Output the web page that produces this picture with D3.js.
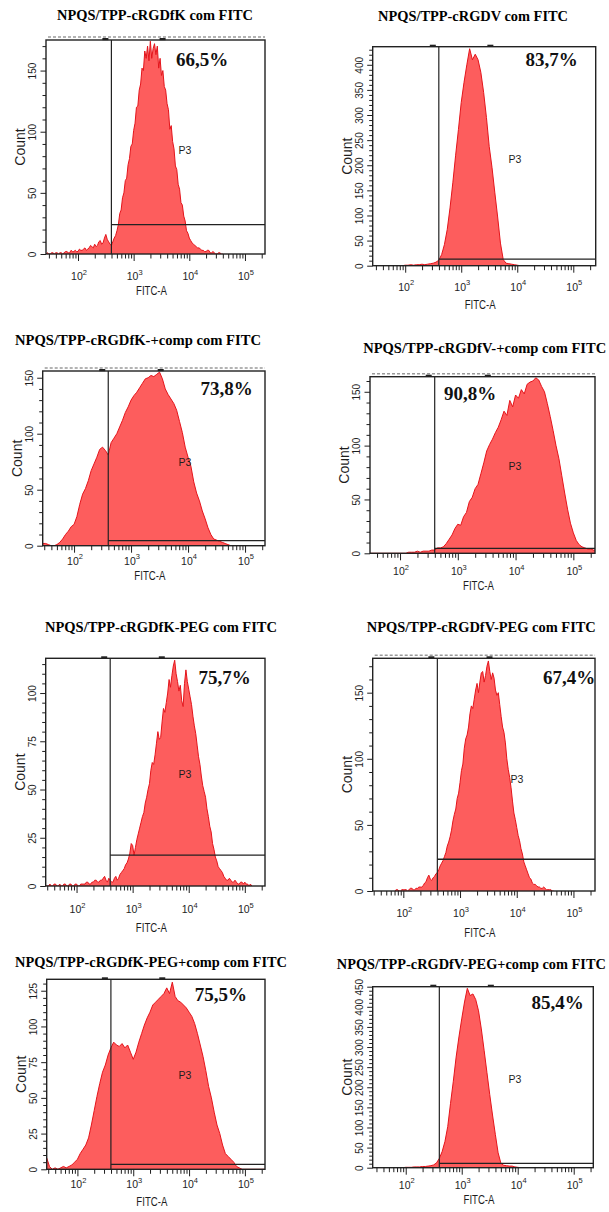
<!DOCTYPE html>
<html>
<head>
<meta charset="utf-8">
<script src="https://cdn.jsdelivr.net/npm/d3@7"></script>
<style>
  html, body { margin: 0; padding: 0; background: #fff; }
  svg { display: block; }
</style>
</head>
<body>
<script>
// FITC-A histograms: counts per bin, each series with its own first bin (log10) and bin width (decades)
const titles = [
  "NPQS/TPP-cRGDfK com FITC",
  "NPQS/TPP-cRGDV com FITC",
  "NPQS/TPP-cRGDfK-+comp com FITC",
  "NPQS/TPP-cRGDfV-+comp com FITC",
  "NPQS/TPP-cRGDfK-PEG com FITC",
  "NPQS/TPP-cRGDfV-PEG com FITC",
  "NPQS/TPP-cRGDfK-PEG+comp com FITC",
  "NPQS/TPP-cRGDfV-PEG+comp com FITC"
];
const percentLabels = ["66,5%", "83,7%", "73,8%", "90,8%", "75,7%", "67,4%", "75,5%", "85,4%"];
const gateName = "P3";
const xAxisTitle = "FITC-A";
const yAxisTitle = "Count";
const decadeTicks = [1e2, 1e3, 1e4, 1e5];
const decadeExponents = ["2", "3", "4", "5"];

// gate: lower FITC-A bound (log10) and the count level of each horizontal gate bar
const gateLog = 2.6;
const gateCounts = [24, 13, 4.5, 4.6, 16, 24, 3.5, 11];

// y axis: maximum, labelled tick step and minor tick step
const yMaxima = [175, 436, 156, 164, 118, 176, 133, 450];
const yMajorSteps = [50, 50, 50, 50, 25, 50, 25, 50];
const yMinorSteps = [10, 10, 10, 10, 5, 10, 5, 10];

// first bin (log10) and bin width of each series
const binStarts = [1.425, 1.40, 1.40, 1.40, 1.45, 1.85, 1.40, 1.40];
const binSteps  = [0.025, 0.05, 0.05, 0.05, 0.025, 0.025, 0.05, 0.05];

const countsFK = [
  0,1,0,0,1,1,0,1,1,0,1,1,0,1,2,2,1,1,3,2,2,3,2,
  2,4,3,3,4,5,3,4,5,7,6,5,8,6,7,10,11,8,9,13,16,12,10,8,7,10,13,15,
  19,24,33,36,46,50,60,62,73,78,88,90,
  101,107,120,121,134,139,152,150,166,160,170,158,174,160,168,172,163,170,152,160,
  146,150,137,134,123,118,102,105,92,86,72,69,57,53,42,40,31,27,19,17,
  13,11,9,8,7,6,5,5,4,3,3,2,2,3,3,1,1,2,1,0,0,1,1,0,0
];
const countsV = [
  0,0,0,0,0,0,0,0,0,0,0,0,
  1,1,2,1,2,2,3,2,3,4,5,7,11,22,42,72,115,165,220,271,
  325,365,400,432,410,421,410,385,345,295,237,195,145,97,45,12,5,4,3,2,
  1,0,0,0,0,0,0,0,0,0,0,0,0,0,0,0,0,0,0,0,
  0,0,0,0,0,0,0,0,0
];
const countsFKComp = [
  0,2,2,1,0,0,1,3,6,10,13,17,
  19,26,37,46,51,58,67,73,79,86,88,85,81,92,96,100,106,112,119,124,
  130,134,137,141,145,149,150,152,151,153,155,149,140,135,131,127,121,111,101,88,
  79,71,57,47,40,31,24,16,10,6,5,4,3,2,1,0,0,0,0,0,
  0,0,0,0,0,0,0,0,0
];
const countsFVComp = [
  0,0,0,0,0,0,0,0,0,0,0,0,
  0,0,0,1,1,1,2,1,2,2,2,3,3,5,5,6,9,13,17,23,
  27,26,34,38,48,52,60,64,74,84,95,101,106,112,117,124,132,128,142,136,
  147,144,152,148,157,159,160,163,161,155,150,139,127,114,100,88,72,56,41,28,
  19,12,8,6,5,4,4,3,3
];
const countsFKPeg = [
  0,0,0,1,0,0,1,1,0,0,1,0,0,1,1,0,0,1,1,0,0,1,
  1,0,0,1,1,1,1,2,2,1,1,2,2,3,3,2,2,3,3,4,5,3,2,4,3,2,2,4,
  5,3,4,6,7,8,9,11,12,14,17,22,
  21,16,20,24,27,30,33,36,38,43,46,50,53,60,64,63,68,74,80,76,
  77,85,92,90,95,100,107,103,109,114,117,110,106,101,104,96,93,105,112,106,
  102,98,94,88,83,79,73,67,63,57,52,49,46,40,36,31,28,22,19,15,
  13,10,9,8,7,5,4,3,3,4,3,2,2,3,2,1,1,2,2,1,
  2,1,1,0,1,0
];
const countsFVPeg = [
  0,1,1,0,0,1,
  1,1,1,0,1,2,2,1,1,2,2,3,3,3,4,6,7,10,12,9,8,10,11,13,14,16,19,21,23,26,29,34,37,41,46,53,58,62,70,74,
  82,91,96,108,115,118,124,134,140,138,145,152,157,150,158,165,166,158,163,170,
  174,166,160,165,161,152,148,150,141,132,124,120,112,100,92,86,78,68,59,54,
  48,42,38,32,28,22,19,16,13,10,9,6,5,5,4,3,3,2,2,3,
  2,1,1,1,1,0,0
];
const countsFKPegComp = [
  0,8,2,0,1,0,1,2,1,2,3,5,
  7,11,14,17,22,31,41,51,60,68,73,80,85,89,87,86,88,85,87,82,
  77,82,89,95,101,106,110,115,117,119,121,123,127,123,131,121,118,117,115,113,
  110,107,102,95,87,79,69,58,50,40,31,25,17,11,9,7,5,2,1,0,
  0,0,0,0,0,0,0,0,0
];
const countsFVPegComp = [
  0,0,0,0,0,0,0,0,0,0,0,0,
  1,1,1,2,2,2,3,3,4,5,7,12,23,40,65,102,160,215,275,325,
  370,412,446,428,432,418,390,345,292,237,182,131,83,37,11,6,5,4,4,2,
  1,0,0,0,0,0,0,0,0,0,0,0,0,0,0,0,0,0,0,0,
  0,0,0,0,0,0,0,0,0
];
const histograms = [countsFK, countsV, countsFKComp, countsFVComp,
                    countsFKPeg, countsFVPeg, countsFKPegComp, countsFVPegComp];

// page layout of each plot frame (pixels) and its visible log10 range
const frames = [
  {x0: 46,    x1: 265,   y0: 40,    y1: 254,    lo: 1.425, hi: 5.36,  tickLab: 26, axLab: 41, title: [155, 20, 196],   pct: [202, 66],      tag: [185, 154]},
  {x0: 372.7, x1: 595.7, y0: 46.7,  y1: 265.7,  lo: 1.42,  hi: 5.40,  tickLab: 25, axLab: 43, title: [473, 21, 190],   pct: [551.7, 65.7],  tag: [515, 163]},
  {x0: 42.7,  x1: 265,   y0: 371,   y1: 545.7,  lo: 1.45,  hi: 5.35,  tickLab: 19, axLab: 34, title: [138, 345, 246],  pct: [226.7, 395],   tag: [185, 466]},
  {x0: 370,   x1: 595,   y0: 376.7, y1: 553.3,  lo: 1.48,  hi: 5.375, tickLab: 22, axLab: 37, title: [484.7, 352.7, 243], pct: [470, 400], tag: [515, 470]},
  {x0: 45.7,  x1: 265,   y0: 658.3, y1: 886,    lo: 1.45,  hi: 5.36,  tickLab: 27, axLab: 46, title: [161, 631.7, 232], pct: [224.7, 684],  tag: [185, 778]},
  {x0: 372.7, x1: 595,   y0: 658.3, y1: 891,    lo: 1.46,  hi: 5.38,  tickLab: 26, axLab: 46, title: [481.3, 631.7, 229], pct: [569, 684],  tag: [517, 783]},
  {x0: 46.7,  x1: 265,   y0: 979.3, y1: 1169.3, lo: 1.45,  hi: 5.36,  tickLab: 19, axLab: 37, title: [151, 967.3, 272], pct: [220.8, 1000.7], tag: [185, 1079]},
  {x0: 372.7, x1: 593.3, y0: 986.7, y1: 1167.7, lo: 1.41,  hi: 5.35,  tickLab: 21, axLab: 36, title: [471.3, 969.3, 269], pct: [557.5, 1009.3], tag: [515, 1083]}
];
const clippedHeaderFrames = [0, 2, 3, 5];

const sansFont = "'Liberation Sans', Arial, sans-serif";
const serifFont = "'Liberation Serif', 'Times New Roman', serif";
const fillRed = "#fd5d5d";
const edgeRed = "#e4141b";
const inkColor = "#1e1e1e";

const svg = d3.select("body").append("svg")
  .attr("width", 609).attr("height", 1212);

histograms.forEach((counts, k) => {
  const f = frames[k];
  const x = d3.scaleLog().domain([Math.pow(10, f.lo), Math.pow(10, f.hi)]).range([f.x0, f.x1]);
  const y = d3.scaleLinear().domain([0, yMaxima[k]]).range([f.y1, f.y0]);
  const g = svg.append("g");

  // title
  g.append("text")
    .attr("x", f.title[0]).attr("y", f.title[1])
    .attr("text-anchor", "middle")
    .attr("textLength", f.title[2]).attr("lengthAdjust", "spacingAndGlyphs")
    .style("font-family", serifFont).style("font-weight", "bold").style("font-size", "14px")
    .attr("fill", "#000")
    .text(titles[k]);

  // histogram area
  const clipId = "clip" + k;
  g.append("clipPath").attr("id", clipId)
    .append("rect").attr("x", f.x0).attr("y", f.y0 - 1)
    .attr("width", f.x1 - f.x0).attr("height", f.y1 - f.y0 + 1);

  const bins = counts.map((c, i) => ({v: Math.pow(10, binStarts[k] + i * binSteps[k]), c: c}));
  const area = d3.area()
    .x(d => x(d.v)).y0(y(0)).y1(d => y(d.c))
    .curve(d3.curveLinear);
  const line = d3.line().x(d => x(d.v)).y(d => y(d.c));

  const hist = g.append("g").attr("clip-path", `url(#${clipId})`);
  hist.append("path").datum(bins).attr("d", area).attr("fill", fillRed);
  hist.append("path").datum(bins).attr("d", line)
    .attr("fill", "none").attr("stroke", edgeRed).attr("stroke-width", 1)
    .attr("stroke-linejoin", "round");

  // gate bars
  const gx = x(Math.pow(10, gateLog));
  g.append("line").attr("x1", gx).attr("x2", gx).attr("y1", f.y0).attr("y2", f.y1)
    .attr("stroke", "#222").attr("stroke-width", 1.2);
  g.append("line").attr("x1", gx).attr("x2", f.x1)
    .attr("y1", y(gateCounts[k])).attr("y2", y(gateCounts[k]))
    .attr("stroke", "#222").attr("stroke-width", 1.3);

  // frame
  g.append("rect").attr("x", f.x0).attr("y", f.y0)
    .attr("width", f.x1 - f.x0).attr("height", f.y1 - f.y0)
    .attr("fill", "none").attr("stroke", "#222").attr("stroke-width", 1.4);

  // header strip above the frame
  if (clippedHeaderFrames.includes(k)) {
    g.append("line").attr("x1", f.x0 + 2).attr("x2", f.x1).attr("y1", f.y0 - 3).attr("y2", f.y0 - 3)
      .attr("stroke", "#9a9a9a").attr("stroke-width", 1.6).attr("stroke-dasharray", "3,2");
  }
  [gx - 6, x(Math.pow(10, 3.52))].forEach(mx => {
    g.append("rect").attr("x", mx - 3).attr("y", f.y0 - 2).attr("width", 6).attr("height", 2.2)
      .attr("fill", "#222");
  });

  // y axis
  const yMax = yMaxima[k];
  const yMajor = d3.range(0, yMax + 0.001, yMajorSteps[k]);
  const yMinor = d3.range(0, yMax + 0.001, yMinorSteps[k]).filter(v => !yMajor.includes(v));
  const yAxisMinor = g.append("g").attr("transform", `translate(${f.x0},0)`)
    .call(d3.axisLeft(y).tickValues(yMinor).tickSize(3.5).tickSizeOuter(0).tickFormat(""));
  yAxisMinor.select(".domain").remove();
  const yAxisMajor = g.append("g").attr("transform", `translate(${f.x0},0)`)
    .call(d3.axisLeft(y).tickValues(yMajor).tickSize(5.5).tickSizeOuter(0).tickFormat(d3.format("d")));
  yAxisMajor.select(".domain").remove();
  g.selectAll(".tick line").attr("stroke", inkColor).attr("stroke-width", 1);
  yAxisMajor.selectAll("text")
    .attr("x", null).attr("dy", null)
    .attr("transform", "translate(-10,0) rotate(-90)")
    .attr("text-anchor", "middle")
    .style("font-family", sansFont).style("font-size", "10px")
    .attr("fill", inkColor);

  g.append("text")
    .attr("transform", `translate(${f.x0 - 21},${(f.y0 + f.y1) / 2}) rotate(-90)`)
    .attr("text-anchor", "middle")
    .style("font-family", sansFont).style("font-size", "14px")
    .attr("fill", inkColor)
    .text(yAxisTitle);

  // x axis: decade and minor log ticks
  const lo = Math.pow(10, f.lo), hi = Math.pow(10, f.hi);
  const minorX = [];
  for (let e = 1; e <= 5; e++) {
    for (let m = 2; m <= 9; m++) {
      const v = m * Math.pow(10, e);
      if (v > lo && v < hi) minorX.push(v);
    }
  }
  const xMinorAxis = g.append("g").attr("transform", `translate(0,${f.y1})`)
    .call(d3.axisBottom(x).tickValues(minorX).tickSize(4.5).tickSizeOuter(0).tickFormat(""));
  xMinorAxis.select(".domain").remove();
  const xMajorAxis = g.append("g").attr("transform", `translate(0,${f.y1})`)
    .call(d3.axisBottom(x).tickValues(decadeTicks).tickSize(7).tickSizeOuter(0).tickFormat(""));
  xMajorAxis.select(".domain").remove();
  g.selectAll(".tick line").attr("stroke", inkColor).attr("stroke-width", 1);

  decadeTicks.forEach((v, i) => {
    const t = g.append("text")
      .attr("x", x(v) + 1).attr("y", f.y1 + f.tickLab)
      .attr("text-anchor", "middle")
      .style("font-family", sansFont).style("font-size", "10.5px")
      .attr("fill", inkColor);
    t.append("tspan").text("10");
    t.append("tspan").attr("dy", -5.5).style("font-size", "7.5px").text(decadeExponents[i]);
  });

  g.append("text")
    .attr("x", (f.x0 + f.x1) / 2 - 4).attr("y", f.y1 + f.axLab)
    .attr("text-anchor", "middle")
    .attr("textLength", 31).attr("lengthAdjust", "spacingAndGlyphs")
    .style("font-family", sansFont).style("font-size", "12px")
    .attr("fill", inkColor)
    .text(xAxisTitle);

  // gate name and percentage
  g.append("text")
    .attr("x", f.tag[0]).attr("y", f.tag[1])
    .attr("text-anchor", "middle")
    .style("font-family", sansFont).style("font-size", "10.5px")
    .attr("fill", inkColor)
    .text(gateName);

  g.append("text")
    .attr("x", f.pct[0]).attr("y", f.pct[1])
    .attr("text-anchor", "middle")
    .style("font-family", serifFont).style("font-weight", "bold").style("font-size", "19px")
    .attr("fill", "#111")
    .text(percentLabels[k]);
});
</script>
</body>
</html>
